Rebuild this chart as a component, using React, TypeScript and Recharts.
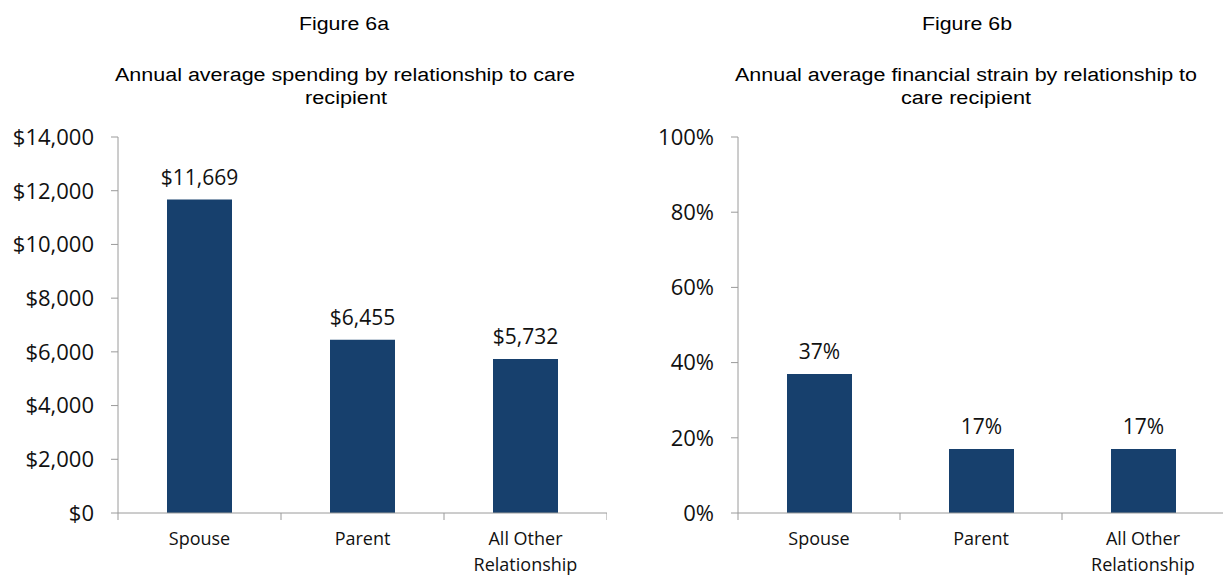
import React from "react";
import { BarChart, Bar, XAxis, YAxis, LabelList, Text } from "recharts";

const categories = ["Spouse", "Parent", "All Other Relationship"];
const spending = [11669, 6455, 5732];
const strain = [0.37, 0.17, 0.17];
const spendTicks = [0, 2000, 4000, 6000, 8000, 10000, 12000, 14000];
const strainTicks = [0, 0.2, 0.4, 0.6, 0.8, 1];

const BAR = "#17406D";
const AXIS = "#9a9a9a";
const INK = "#111";
const TICK_FONT = "'Open Sans', sans-serif";
const TITLE_FONT = "'Liberation Sans', Arial, sans-serif";

const spendData = categories.map((c, i) => ({ name: c, value: spending[i] }));
const strainData = categories.map((c, i) => ({ name: c, value: strain[i] }));

const money = (v: number) => "$" + v.toLocaleString("en-US");
const pct = (v: number) => Math.round(v * 100) + "%";

// category label + tick marks at the band edges (Excel style)
function CatTick(props: any) {
  const { x, y, payload, index, band, count } = props;
  const half = band / 2;
  return (
    <g>
      <line x1={x - half} x2={x - half} y1={y} y2={y + 7} stroke={AXIS} />
      {index === count - 1 && (
        <line x1={x + half} x2={x + half} y1={y} y2={y + 7} stroke={AXIS} />
      )}
      <Text
        x={x}
        y={y + 19}
        width={band - 20}
        textAnchor="middle"
        verticalAnchor="start"
        lineHeight={26}
        fontSize={18}
        fontFamily={TICK_FONT}
        fill={INK}
      >
        {payload.value}
      </Text>
    </g>
  );
}

function Panel({
  data,
  ticks,
  domain,
  fmt,
  width,
  plotW,
}: {
  data: { name: string; value: number }[];
  ticks: number[];
  domain: [number, number];
  fmt: (v: number) => string;
  width: number;
  plotW: number;
}) {
  const band = plotW / data.length;
  return (
    <BarChart
      width={width}
      height={576}
      data={data}
      margin={{ top: 137, right: 0, bottom: 0, left: 0 }}
    >
      <XAxis
        dataKey="name"
        axisLine={{ stroke: AXIS }}
        tickLine={false}
        tickSize={0}
        tickMargin={0}
        interval={0}
        tick={<CatTick band={band} count={data.length} />}
        height={63}
      />
      <YAxis
        width={118}
        domain={domain}
        ticks={ticks}
        tickFormatter={fmt}
        axisLine={{ stroke: AXIS }}
        tickLine={{ stroke: AXIS }}
        tickSize={7}
        tickMargin={17}
        tick={{ fill: INK, fontSize: 22, fontFamily: TICK_FONT }}
      />
      <Bar dataKey="value" fill={BAR} barSize={65} isAnimationActive={false}>
        <LabelList
          dataKey="value"
          position="top"
          offset={15}
          formatter={(v: any) => fmt(Number(v))}
          fill={INK}
          fontSize={21}
          fontFamily={TICK_FONT}
        />
      </Bar>
    </BarChart>
  );
}

function Titles() {
  const t = { fontFamily: TITLE_FONT, fontSize: 18, fill: "#000", textAnchor: "middle" as const };
  return (
    <svg width={1223} height={120} style={{ position: "absolute", left: 0, top: 0 }}>
      <text x={344} y={30} {...t} textLength={90} lengthAdjust="spacingAndGlyphs">Figure 6a</text>
      <text x={345} y={81} {...t} textLength={460} lengthAdjust="spacingAndGlyphs">
        Annual average spending by relationship to care
      </text>
      <text x={346} y={104} {...t} textLength={82} lengthAdjust="spacingAndGlyphs">recipient</text>

      <text x={967} y={30} {...t} textLength={90} lengthAdjust="spacingAndGlyphs">Figure 6b</text>
      <text x={966} y={81} {...t} textLength={462} lengthAdjust="spacingAndGlyphs">
        Annual average financial strain by relationship to
      </text>
      <text x={966} y={104} {...t} textLength={130} lengthAdjust="spacingAndGlyphs">care recipient</text>
    </svg>
  );
}

export default function App() {
  return (
    <div
      style={{
        position: "absolute",
        left: 0,
        top: 0,
        width: 1223,
        height: 576,
        overflow: "hidden",
        background: "#fff",
      }}
    >
      <div style={{ position: "absolute", left: 0, top: 0 }}>
        <Panel data={spendData} ticks={spendTicks} domain={[0, 14000]} fmt={money} width={607} plotW={489} />
      </div>
      <div style={{ position: "absolute", left: 620, top: 0 }}>
        <Panel data={strainData} ticks={strainTicks} domain={[0, 1]} fmt={pct} width={604} plotW={486} />
      </div>
      <Titles />
    </div>
  );
}
